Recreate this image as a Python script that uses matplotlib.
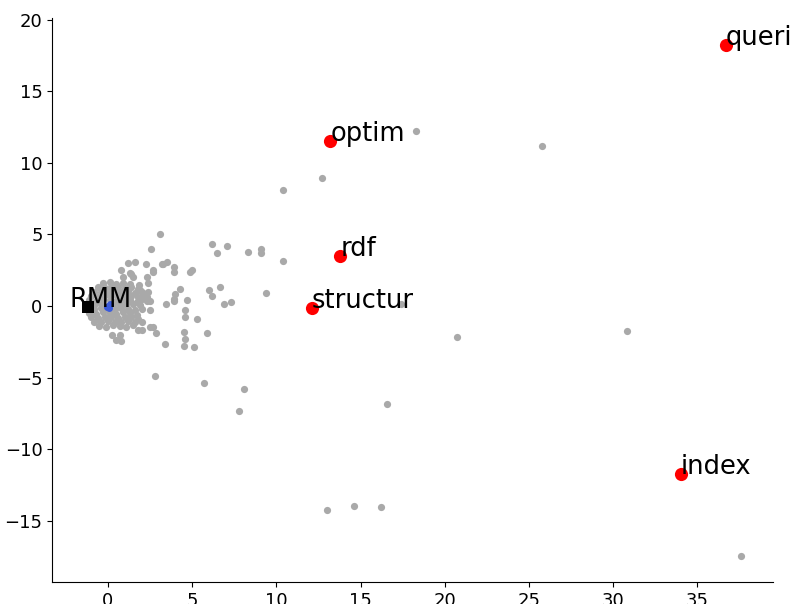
import matplotlib
matplotlib.use('Agg')
import matplotlib.pyplot as plt

# points far from the cluster
outer_pts = [(18.3, 12.2), (25.8, 11.2), (10.4, 8.1), (12.7, 8.9), (3.1, 5.0),
             (6.2, 4.3), (7.1, 4.2), (6.5, 3.7), (8.3, 3.8), (9.1, 4.0), (9.1, 3.7),
             (10.4, 3.15), (9.4, 0.9), (17.4, 0.15), (20.7, -2.15), (30.8, -1.75),
             (16.6, -6.85), (8.1, -5.8), (5.7, -5.4), (7.8, -7.35), (2.8, -4.9),
             (13.0, -14.25), (14.6, -14.0), (16.2, -14.05), (37.6, -17.5)]

mid_pts = [(2.7, 2.4), (3.3, 2.9), (3.5, 3.1), (3.2, 2.95), (3.9, 2.7), (3.9, 2.4),
           (4.9, 2.4), (5.0, 2.5), (2.55, 4.0), (4.3, 1.2), (4.0, 0.8), (3.9, 0.5),
           (3.9, 0.35), (3.45, 0.15), (4.7, 0.4), (6.0, 1.1), (6.65, 1.35), (6.2, 0.7),
           (6.9, 0.15), (7.3, 0.3), (4.6, -0.3), (4.6, -0.75), (5.3, -0.9), (2.7, -1.5),
           (2.85, -1.9), (4.5, -1.8), (4.6, -2.3), (5.9, -1.9), (3.4, -2.65), (4.5, -2.8),
           (5.1, -2.9), (2.5, 0.35), (2.5, -0.3), (2.25, 2.95), (1.2, 3.0), (1.6, 3.1),
           (0.8, 2.5), (1.3, 2.3), (1.4, 2.2), (0.9, 2.0), (2.3, 2.0), (2.4, 1.6),
           (1.85, 1.45), (1.9, 1.1), (2.4, 1.0), (2.3, 0.6), (2.35, 0.35), (2.0, -1.7),
           (1.8, -1.7), (2.5, -1.45), (2.0, -1.1), (0.25, -2.0), (0.7, -2.0), (0.5, -2.4),
           (0.8, -2.45), (1.5, 2.05), (2.7, 2.5)]

core_pts = [(-0.3, 1.6), (0.1, 1.65), (0.5, 1.55), (0.9, 1.6), (1.3, 1.5),
            (-0.6, 1.3), (-0.2, 1.25), (0.2, 1.35), (0.6, 1.3), (1.0, 1.25), (1.4, 1.3), (1.8, 1.2),
            (-0.8, 1.0), (-0.4, 0.95), (0.0, 1.05), (0.4, 1.0), (0.8, 0.95), (1.2, 1.05), (1.6, 0.9), (2.0, 0.95),
            (-1.0, 0.7), (-0.6, 0.65), (-0.2, 0.75), (0.2, 0.7), (0.6, 0.65), (1.0, 0.75), (1.4, 0.7), (1.8, 0.6), (2.1, 0.75),
            (-1.1, 0.4), (-0.7, 0.35), (-0.3, 0.45), (0.1, 0.4), (0.5, 0.35), (0.9, 0.45), (1.3, 0.4), (1.7, 0.3), (2.0, 0.45),
            (-1.2, 0.1), (-0.8, 0.05), (-0.4, 0.15), (0.3, 0.1), (0.7, 0.05), (1.1, 0.15), (1.5, 0.1), (1.9, 0.05),
            (-1.2, -0.2), (-0.8, -0.25), (-0.4, -0.15), (0.0, -0.2), (0.4, -0.25), (0.8, -0.15), (1.2, -0.2), (1.6, -0.3), (2.0, -0.2),
            (-1.1, -0.5), (-0.7, -0.55), (-0.3, -0.45), (0.1, -0.5), (0.5, -0.55), (0.9, -0.45), (1.3, -0.5), (1.7, -0.6),
            (-1.0, -0.8), (-0.6, -0.85), (-0.2, -0.75), (0.2, -0.8), (0.6, -0.85), (1.0, -0.75), (1.4, -0.8), (1.8, -0.9),
            (-0.8, -1.1), (-0.4, -1.15), (0.0, -1.05), (0.4, -1.1), (0.8, -1.15), (1.2, -1.05), (1.6, -1.1),
            (-0.5, -1.4), (-0.1, -1.45), (0.3, -1.35), (0.7, -1.4), (1.1, -1.5), (1.5, -1.35)]

# highlighted terms
terms = ['queri', 'optim', 'rdf', 'structur', 'index']
term_x = [36.7, 13.2, 13.8, 12.1, 34.0]
term_y = [18.25, 11.55, 3.5, -0.15, -11.75]

blue_x = [0.0, 0.12, -0.08, 0.05]
blue_y = [0.0, 0.1, -0.05, -0.12]

rmm_x, rmm_y = -1.2, -0.05
rmm_label_x = -2.3

gray = outer_pts + mid_pts + core_pts
gx = [p[0] for p in gray]
gy = [p[1] for p in gray]

fig = plt.figure(figsize=(7.93, 6.04), dpi=100)
ax = fig.add_axes([0.066, 0.036, 0.909, 0.934])

ax.scatter(gx, gy, s=27, c='darkgray', linewidths=0, zorder=2)
ax.scatter(blue_x, blue_y, s=25, c='#3b5bdb', linewidths=0, zorder=3)
ax.scatter(term_x, term_y, s=90, c='red', linewidths=0, zorder=4)
ax.scatter([rmm_x], [rmm_y], s=65, c='black', marker='s', linewidths=0, zorder=4)

for t, x, y in zip(terms, term_x, term_y):
    ax.text(x, y, t, fontsize=18.5, zorder=5)
ax.text(rmm_label_x, rmm_y, 'RMM', fontsize=18.5, zorder=5)

ax.set_xlim(-3.3, 39.5)
ax.set_ylim(-19.3, 20.1)
ax.set_xticks(range(0, 40, 5))
ax.set_yticks(range(-15, 25, 5))
ax.tick_params(labelsize=13)
ax.spines['top'].set_visible(False)
ax.spines['right'].set_visible(False)

fig.savefig('out.png', dpi=100)
